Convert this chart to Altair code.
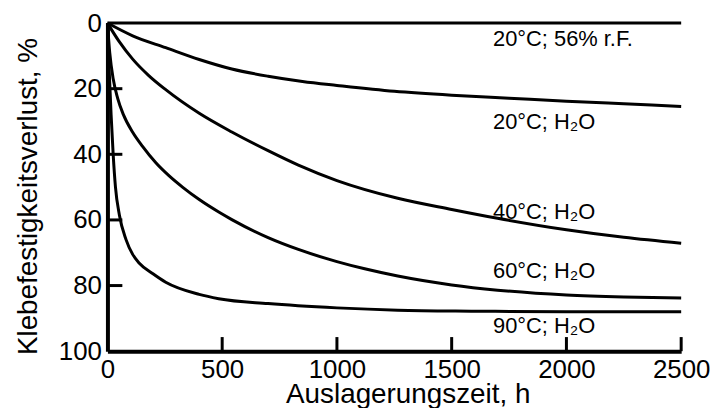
import altair as alt
import pandas as pd

# ---- data ----
h_20rf = [0, 2500]
v_20rf = [0, 0]

h_20w = [0, 110, 254, 400, 542, 700, 850, 1000, 1250, 1500, 1750, 2000, 2250, 2500]
v_20w = [0, 3.9, 7.5, 11.1, 14.0, 16.2, 17.8, 19.0, 20.8, 22.0, 22.9, 23.8, 24.6, 25.4]

h_40w = [0, 50, 110, 180, 254, 400, 542, 700, 832, 1000, 1265, 1500, 1700, 2000, 2250, 2500]
v_40w = [0, 5.5, 11, 16, 20.3, 27.5, 33.2, 38.9, 43.3, 48.0, 53.4, 56.8, 59.5, 63, 65.3, 67.1]

h_60w = [0, 10, 25, 45, 70, 110, 153, 211, 269, 327, 400, 485, 542, 700, 832, 1000, 1121, 1265,
         1500, 1700, 2000, 2250, 2500]
v_60w = [0, 9, 17, 23, 28, 33.3, 37.6, 42.6, 46.6, 50, 53.8, 57.6, 59.9, 65.4, 69, 72.7, 74.9, 77.1,
         79.8, 81.4, 82.9, 83.5, 83.8]

h_90w = [0, 8, 16, 25, 35, 52, 81, 110, 139, 200, 254, 400, 485, 700, 1000, 1265, 1600, 2000, 2500]
v_90w = [0, 15, 28, 40, 50, 58.5, 66, 70.5, 73.2, 76.5, 79, 82.7, 84, 85.5, 86.8, 87.5, 87.8, 88, 88]

series_names = ["20°C; 56% r.F.", "20°C; H₂O", "40°C; H₂O", "60°C; H₂O", "90°C; H₂O"]
series_h = [h_20rf, h_20w, h_40w, h_60w, h_90w]
series_v = [v_20rf, v_20w, v_40w, v_60w, v_90w]

label_x = [1680, 1680, 1680, 1680, 1680]
label_y = [4.9, 30.3, 57.5, 75.7, 92.3]

x_ticks = [0, 500, 1000, 1500, 2000, 2500]
y_ticks = [0, 20, 40, 60, 80, 100]
x_inner_ticks = [500, 1000, 1500, 2000, 2500]
y_inner_ticks = [20, 40, 60, 80]
x_tick_len = 4.3    # inward tick length, in y units
y_tick_len = 65     # inward tick length, in x units

# ---- tables ----
rows = []
for name, hs, vs in zip(series_names, series_h, series_v):
    for hh, vv in zip(hs, vs):
        rows.append({"serie": name, "h": hh, "v": vv})
df = pd.DataFrame(rows)
df_lab = pd.DataFrame({"text": series_names, "h": label_x, "v": label_y})

trows = []
for t in x_inner_ticks:
    trows.append({"tick": f"x{t}", "h": t, "v": 100.0})
    trows.append({"tick": f"x{t}", "h": t, "v": 100.0 - x_tick_len})
for t in y_inner_ticks:
    trows.append({"tick": f"y{t}", "h": 0, "v": float(t)})
    trows.append({"tick": f"y{t}", "h": y_tick_len, "v": float(t)})
df_ticks = pd.DataFrame(trows)

FONT = "Liberation Sans"

xscale = alt.Scale(domain=[0, 2500], nice=False, zero=False)
yscale = alt.Scale(domain=[0, 100], reverse=True, nice=False)

x_axis = alt.Axis(
    values=x_ticks, format="d", title="Auslagerungszeit, h", grid=False, ticks=False,
    domainColor="black", domainWidth=4, labelFontSize=26, labelFont=FONT,
    labelColor="black", labelPadding=5, labelFlush=False,
    titleFontSize=28, titleFont=FONT, titleFontWeight="normal", titleColor="black",
    titleX=302, titleY=52, titleBaseline="alphabetic", titleAlign="center",
)
y_axis = alt.Axis(
    values=y_ticks, format="d", title="Klebefestigkeitsverlust, %", grid=False, ticks=False,
    domainColor="black", domainWidth=4, labelFontSize=26, labelFont=FONT,
    labelColor="black", labelPadding=6, labelFlush=False,
    titleFontSize=28, titleFont=FONT, titleFontWeight="normal", titleColor="black",
    titleX=-71, titleY=174, titleBaseline="alphabetic", titleAlign="center", titleAngle=270,
)

lines = alt.Chart(df).mark_line(color="black", strokeWidth=3, interpolate="monotone").encode(
    x=alt.X("h:Q", scale=xscale, axis=x_axis),
    y=alt.Y("v:Q", scale=yscale, axis=y_axis),
    detail="serie:N",
)

ticks = alt.Chart(df_ticks).mark_line(color="black", strokeWidth=3).encode(
    x=alt.X("h:Q", scale=xscale),
    y=alt.Y("v:Q", scale=yscale),
    detail="tick:N",
)

labels = alt.Chart(df_lab).mark_text(
    align="left", baseline="middle", fontSize=22, font=FONT, color="black"
).encode(
    x=alt.X("h:Q", scale=xscale),
    y=alt.Y("v:Q", scale=yscale),
    text="text:N",
)

chart = alt.layer(lines, ticks, labels).properties(
    width=577, height=330,
    autosize=alt.AutoSizeParams(type="none"),
    padding={"left": 100, "top": 14, "right": 30, "bottom": 56},
    background="white",
).configure_view(stroke=None)

chart.save("out.html", embed_options={"renderer": "svg", "actions": False})
